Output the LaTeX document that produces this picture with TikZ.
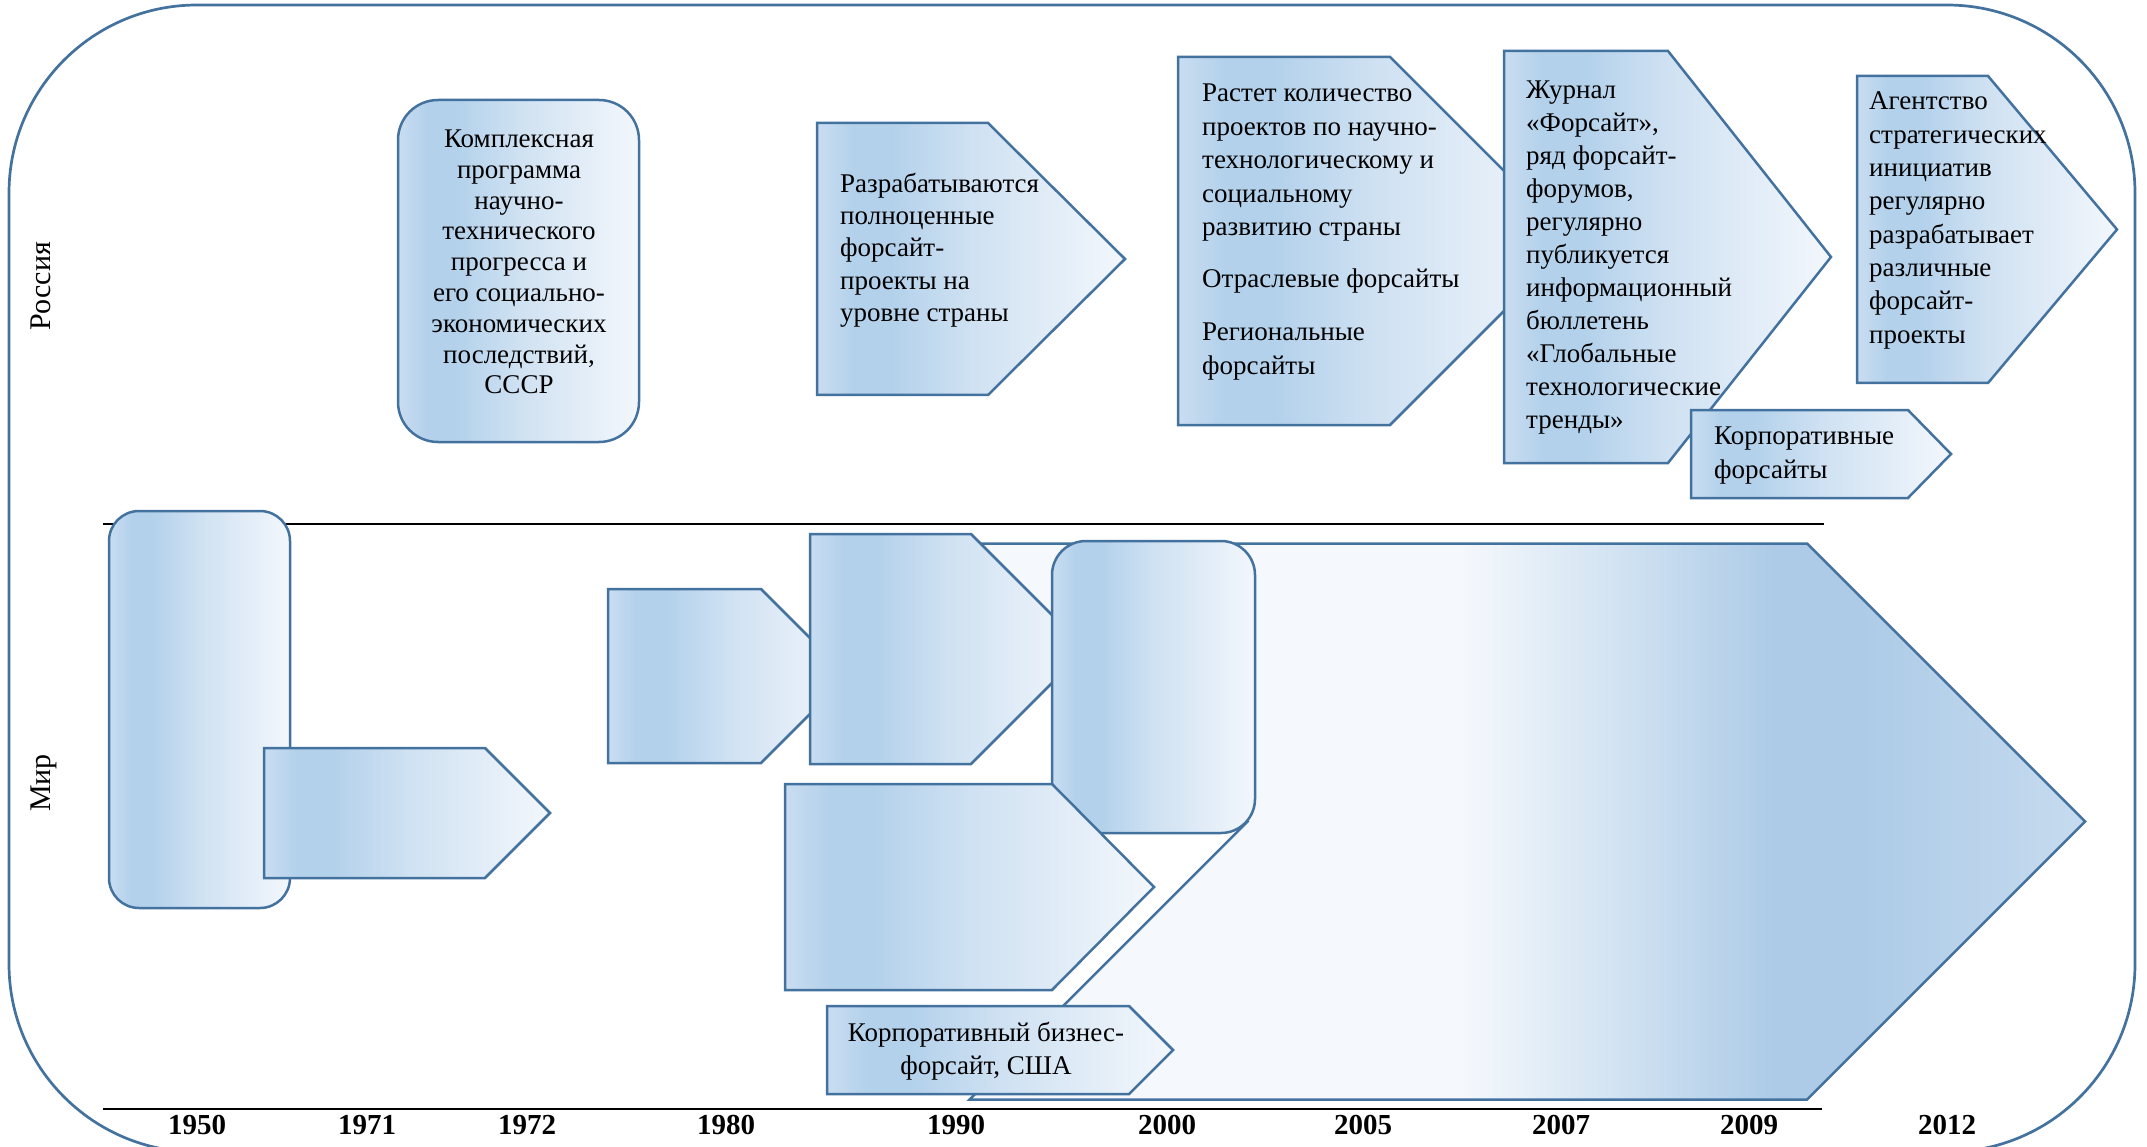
\documentclass[tikz,border=0pt]{standalone}
\usepackage{fontspec}
\setmainfont{Liberation Serif}
\definecolor{edge}{HTML}{44729F}
\definecolor{bsA}{HTML}{C9DDF1}
\definecolor{bsB}{HTML}{B3D1EB}
\definecolor{bsC}{HTML}{CFE1F2}
\definecolor{bsD}{HTML}{F3F7FC}
\definecolor{bgA}{HTML}{F5F8FC}
\definecolor{bgB}{HTML}{D2E3F2}
\definecolor{bgC}{HTML}{ADCBE7}
\definecolor{bgD}{HTML}{C6DBEF}
\pgfdeclarehorizontalshading{boxshade}{100bp}{color(0bp)=(bsA); color(25bp)=(bsA); color(31bp)=(bsB); color(37bp)=(bsB); color(50bp)=(bsC); color(75bp)=(bsD); color(100bp)=(bsD)}
\pgfdeclarehorizontalshading{bigshade}{100bp}{color(0bp)=(bgA); color(25bp)=(bgA); color(47bp)=(bgA); color(54bp)=(bgB); color(61bp)=(bgC); color(65bp)=(bgC); color(75bp)=(bgD); color(100bp)=(bgD)}
\tikzset{
  fillbox/.style={draw=edge, line width=2.5pt, shading=boxshade, line join=miter},
  bigbox/.style={draw=edge, line width=2.5pt, shading=bigshade, line join=miter},
  txt/.style={font=\fontsize{27}{31}\selectfont, inner sep=0pt},
  yr/.style={font=\fontsize{29}{30}\selectfont\bfseries, inner sep=0pt},
  side/.style={font=\fontsize{30}{32}\selectfont, inner sep=0pt, rotate=90},
  axisline/.style={line width=2.8pt, black}
}
\begin{document}
\begin{tikzpicture}[x=1pt,y=-1pt]
\useasboundingbox (0,0) rectangle (2147,1147);
% outer frame
\draw[edge, line width=2.7pt, rounded corners=188pt] (9,5) rectangle (2135,1152);
% axis lines
\coordinate (midL) at (103,524);
\coordinate (midR) at (1824,524);
\coordinate (botL) at (103,1109);
\coordinate (botR) at (1822,1109);
\draw[axisline] (midL) -- (midR);
\draw[axisline] (botL) -- (botR);
% side labels
\node[side] (ru) at (41,286) {Россия};
\node[side] (mir) at (44,783) {Мир};
% years
\node[yr] (y1950) at (197,1125) {1950};
\node[yr] (y1971) at (367,1125) {1971};
\node[yr] (y1972) at (527,1125) {1972};
\node[yr] (y1980) at (726,1125) {1980};
\node[yr] (y1990) at (956,1125) {1990};
\node[yr] (y2000) at (1167,1125) {2000};
\node[yr] (y2005) at (1363,1125) {2005};
\node[yr] (y2007) at (1561,1125) {2007};
\node[yr] (y2009) at (1749,1125) {2009};
\node[yr] (y2012) at (1947,1125) {2012};

% ===== Russia row =====
\path[fillbox, rounded corners=40pt] (398,100) rectangle (639,442);
\node[txt, align=center, font=\fontsize{27}{30.8}\selectfont] (t1) at (519,262) {Комплексная\\программа\\научно-\\технического\\прогресса и\\его социально-\\экономических\\последствий,\\СССР};

\path[fillbox] (817,123) -- (988,123) -- (1125,259) -- (988,395) -- (817,395) -- cycle;
\node[txt, align=left, anchor=west, font=\fontsize{27}{32.3}\selectfont] (t2) at (840,250) {Разрабатываются\\полноценные\\форсайт-\\проекты на\\уровне страны};

\path[fillbox] (1178,57) -- (1390,57) -- (1574,241) -- (1390,425) -- (1178,425) -- cycle;
\node[txt, align=left, anchor=west, font=\fontsize{27}{33.5}\selectfont] (t3) at (1202,232) {Растет количество\\проектов по научно-\\технологическому и\\социальному\\развитию страны\\[18.5pt]Отраслевые форсайты\\[19.5pt]Региональные\\форсайты};

\path[fillbox] (1504,51) -- (1668,51) -- (1831,257) -- (1668,463) -- (1504,463) -- cycle;
\node[txt, align=left, anchor=west, font=\fontsize{27}{33}\selectfont] (t4) at (1526,258) {Журнал\\«Форсайт»,\\ряд форсайт-\\форумов,\\регулярно\\публикуется\\информационный\\бюллетень\\«Глобальные\\технологические\\тренды»};

\path[fillbox] (1857,76) -- (1988,76) -- (2117,229.5) -- (1988,383) -- (1857,383) -- cycle;
\node[txt, align=left, anchor=west, font=\fontsize{27}{33.3}\selectfont] (t5) at (1869,220.5) {Агентство\\стратегических\\инициатив\\регулярно\\разрабатывает\\различные\\форсайт-\\проекты};

\path[fillbox] (1691,410) -- (1908,410) -- (1951,454) -- (1908,498) -- (1691,498) -- cycle;
\node[txt, align=left, anchor=west, font=\fontsize{27}{34}\selectfont] (t6) at (1714,456) {Корпоративные\\форсайты};

% ===== World row =====
\path[bigbox] (969.5,543.5) -- (1807,543.5) -- (2085,821.5) -- (1807,1099.5) -- (969.5,1099.5) -- (1247.5,821.5) -- cycle;

\path[fillbox, rounded corners=30pt] (109,511) rectangle (290,908);
\path[fillbox] (264,748) -- (485,748) -- (550,813) -- (485,878) -- (264,878) -- cycle;

\path[fillbox] (608,589) -- (761,589) -- (848,676) -- (761,763) -- (608,763) -- cycle;
\path[fillbox] (810,534) -- (971,534) -- (1086,649) -- (971,764) -- (810,764) -- cycle;
\path[fillbox, rounded corners=34pt] (1052,541) rectangle (1255,833);
\path[fillbox] (785,784) -- (1052,784) -- (1154,887) -- (1052,990) -- (785,990) -- cycle;

\path[fillbox] (827,1006) -- (1129,1006) -- (1173,1050) -- (1129,1094) -- (827,1094) -- cycle;
\node[txt, align=center, font=\fontsize{27}{33}\selectfont] (t7) at (986,1051) {Корпоративный бизнес-\\форсайт, США};
\end{tikzpicture}
\end{document}
